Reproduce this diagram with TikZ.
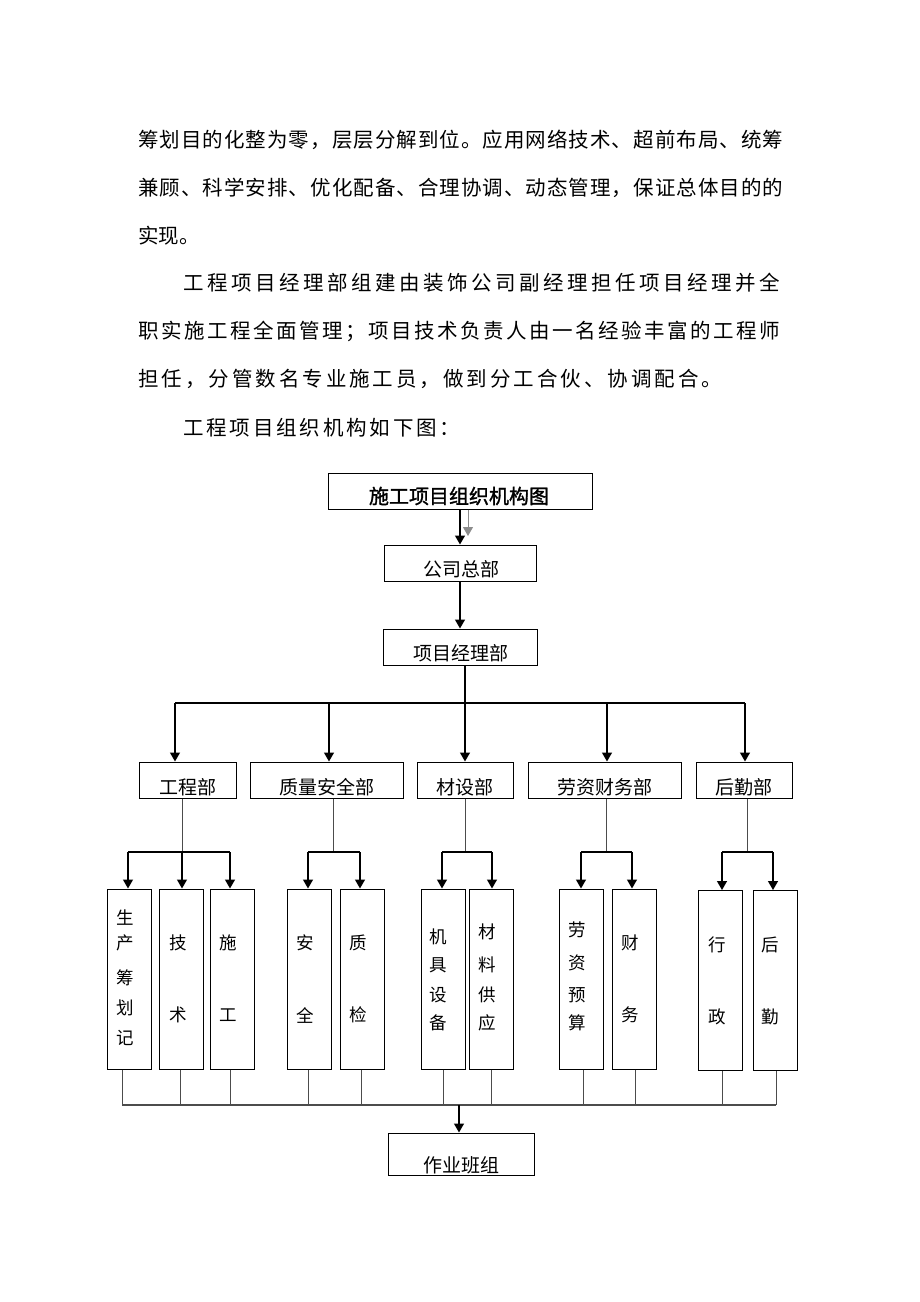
\documentclass[tikz,border=0pt]{standalone}
\usepackage{fontspec}
\newfontfamily\cjk{Noto Sans CJK SC}
\newfontfamily\cjktitle{Noto Sans CJK SC}[FakeBold=1.5]
\usetikzlibrary{arrows.meta}
\def\spreadend{}
\def\spreadchars#1{\spreadfirst#1\spreadend}
\def\spreadfirst#1{#1\spreadrest}
\def\spreadrest#1{\ifx#1\spreadend\else\hfill#1\expandafter\spreadrest\fi}
\newcommand\spreadline[2]{\makebox[#1pt][l]{\spreadchars{#2}}}
\newcommand\vlabel[3]{\foreach \c/\y [count=\i] in {#3} \node[vch] (#1c\i) at (#2,\y) {\c};}
\tikzset{
  box/.style={draw, line width=1pt, inner sep=0pt},
  txt/.style={inner sep=0pt, font=\cjk\fontsize{19}{19}\selectfont},
  vch/.style={inner sep=0pt, font=\cjk\fontsize{17.5}{17.5}\selectfont},
  para/.style={anchor=west, inner sep=0pt, font=\cjk\fontsize{20.5}{20.5}\selectfont},
  arr/.style={line width=1.3pt, -{Triangle[length=9pt,width=10pt]}},
  line/.style={line width=1.3pt},
  link/.style={line width=0.9pt, draw=black!70},
}
\begin{document}
\begin{tikzpicture}[x=1pt,y=-1pt]
\useasboundingbox[fill=white] (0,0) rectangle (920,1302);

\node[para] (p1) at (138,140) {\spreadline{645}{筹划目的化整为零，层层分解到位。应用网络技术、超前布局、统筹}};
\node[para] (p2) at (138,188) {\spreadline{645}{兼顾、科学安排、优化配备、合理协调、动态管理，保证总体目的的}};
\node[para] (p3) at (138,236) {实现。};
\node[para] (p4) at (183,283) {\spreadline{597}{工程项目经理部组建由装饰公司副经理担任项目经理并全}};
\node[para] (p5) at (138,331) {\spreadline{642}{职实施工程全面管理；项目技术负责人由一名经验丰富的工程师}};
\node[para] (p6) at (138,379) {\spreadline{584}{担任，分管数名专业施工员，做到分工合伙、协调配合。}};
\node[para] (p7) at (183,428) {\spreadline{277}{工程项目组织机构如下图：}};

\node[box, minimum width=264pt, minimum height=36pt] (title) at (460,491) {};
\node[txt, font=\cjktitle\fontsize{20}{20}\selectfont] (title-t) at (459,496) {施工项目组织机构图};
\node[box, minimum width=152pt, minimum height=36pt] (hq) at (460,563) {};
\node[txt] (hq-t) at (461,569) {公司总部};
\node[box, minimum width=154pt, minimum height=36pt] (pm) at (460,647) {};
\node[txt] (pm-t) at (461,653) {项目经理部};
\coordinate (gray) at (468,536);
\draw[arr] (title.south) -- (hq.north);
\draw[arr, draw=black!45, line width=1pt] (title.south -| gray) -- (gray);
\draw[arr] (hq.south) -- (pm.north);

\foreach \n/\x/\w/\t in {d1/187.5/97/工程部, d2/326.5/153/质量安全部, d3/465/96/材设部, d4/604.5/153/劳资财务部, d5/744/96/后勤部}{
  \node[box, minimum width=\w pt, minimum height=36pt] (\n) at (\x,780) {};
  \node[txt] (\n-t) at (\x,787) {\t};
}
\coordinate (pmdrop) at (465,703);
\draw[line] (pmdrop |- pm.south) -- (pmdrop);
\draw[line] (175,703) -- (745,703);
\foreach \n/\x in {d1/175, d2/329, d3/465, d4/607, d5/745}{
  \coordinate (b-\n) at (\x,703);
  \draw[arr] (b-\n) -- (b-\n |- \n.north);
}

\foreach \s/\x in {s1/129, s2/181.5, s3/232.5, s4/309.5, s5/362, s6/443, s7/491.5, s8/581.5, s9/634.5}{
  \node[box, minimum width=44pt, minimum height=180pt] (\s) at (\x,979) {};
}
\node[box, minimum width=44pt, minimum height=180pt] (s10) at (720.5,980.5) {};
\node[box, minimum width=44pt, minimum height=180pt] (s11) at (775,980.5) {};
\vlabel{s1}{125}{生/918, 产/943, 筹/978, 划/1008, 记/1038}
\vlabel{s2}{178}{技/943, 术/1015}
\vlabel{s3}{228}{施/943, 工/1015}
\vlabel{s4}{305}{安/943, 全/1015}
\vlabel{s5}{358}{质/943, 检/1015}
\vlabel{s6}{438}{机/937, 具/965, 设/995, 备/1023}
\vlabel{s7}{487}{材/932, 料/965, 供/995, 应/1023}
\vlabel{s8}{577}{劳/930, 资/963, 预/995, 算/1023}
\vlabel{s9}{630}{财/943, 务/1015}
\vlabel{s10}{717}{行/945, 政/1017}
\vlabel{s11}{770}{后/945, 勤/1017}

\foreach \n/\x/\l/\r in {d1/182/128/230, d2/333/308/360, d3/465/442/492, d4/606/581/632, d5/747/722/773}{
  \coordinate (j-\n) at (\x,852);
  \draw[link] (j-\n |- \n.south) -- (j-\n);
  \draw[line] (\l,852) -- (\r,852);
}
\foreach \s/\x in {s1/128, s2/182, s3/230, s4/308, s5/360, s6/442, s7/492, s8/581, s9/632, s10/722, s11/773}{
  \coordinate (a-\s) at (\x,852);
  \draw[arr] (a-\s) -- (a-\s |- \s.north);
}

\foreach \s/\x in {s1/122, s2/180, s3/230, s4/308, s5/361, s6/443, s7/491, s8/583, s9/635, s10/722, s11/776}{
  \coordinate (e-\s) at (\x,1105);
  \draw[link] (e-\s |- \s.south) -- (e-\s);
}
\draw[line, draw=black!70, line width=1.6pt] (e-s1) -- (e-s11);
\node[box, minimum width=146pt, minimum height=42pt] (team) at (461,1154) {};
\node[txt] (team-t) at (461,1165) {作业班组};
\coordinate (e-team) at (459,1105);
\draw[arr] (e-team) -- (e-team |- team.north);
\end{tikzpicture}
\end{document}
